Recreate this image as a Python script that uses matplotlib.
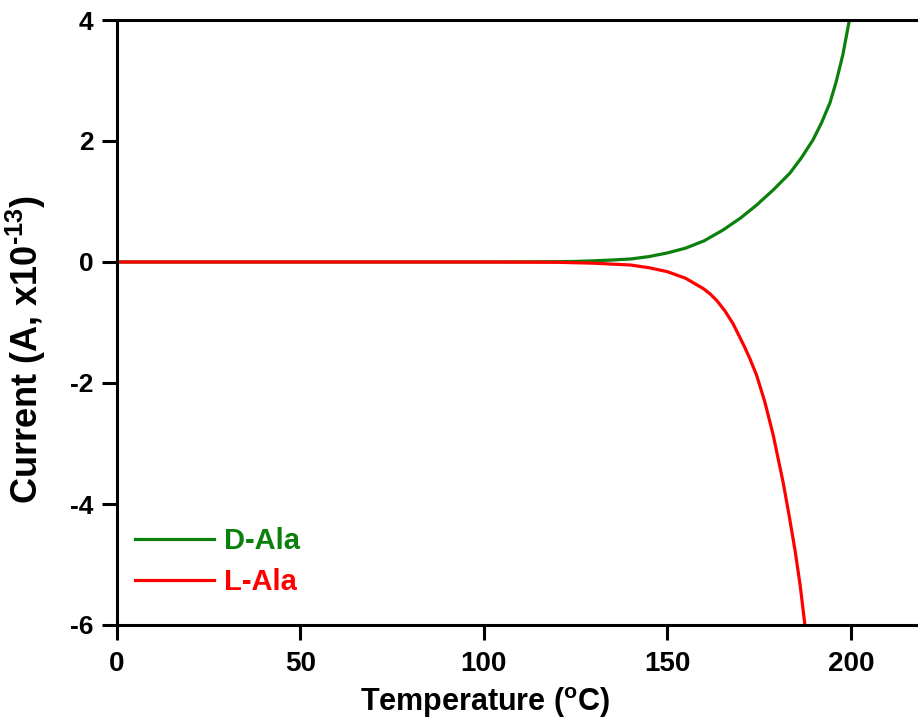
import matplotlib
matplotlib.use('Agg')
import matplotlib.pyplot as plt

plt.rcParams['font.family'] = ['Liberation Sans', 'DejaVu Sans']
plt.rcParams['font.weight'] = 'bold'
plt.rcParams['mathtext.fontset'] = 'custom'
plt.rcParams['mathtext.rm'] = 'Liberation Sans:bold'
plt.rcParams['mathtext.bf'] = 'Liberation Sans:bold'
plt.rcParams['axes.unicode_minus'] = False

# current vs temperature
temp_d = [0, 50, 100, 120, 125, 130, 135, 140, 145, 150, 155, 160, 165.2, 170,
          174.3, 179, 183.4, 186.5, 189.7, 192, 194.3, 196, 197.8, 199.6]
cur_d = [0, 0, 0, 0.005, 0.01, 0.02, 0.033, 0.05, 0.09, 0.15, 0.23, 0.35, 0.53,
         0.73, 0.94, 1.2, 1.47, 1.72, 2.02, 2.3, 2.63, 2.98, 3.42, 4.0]

temp_l = [0, 50, 100, 120, 130, 140, 145, 150, 155, 159.8, 161.7, 163.5, 165.7,
          167.9, 171, 172.5, 174.3, 176.5, 178.8, 181.6, 183.2, 184.8, 186.2, 187.5]
cur_l = [0, 0, 0, -0.005, -0.02, -0.05, -0.095, -0.16, -0.27, -0.44, -0.53, -0.64,
         -0.81, -1.02, -1.40, -1.60, -1.87, -2.3, -2.85, -3.66, -4.2, -4.77, -5.35,
         -6.01]

xticks = [0, 50, 100, 150, 200]
yticks = [-6, -4, -2, 0, 2, 4]

green = '#0c800c'
red = '#ff0000'

fig = plt.figure(figsize=(9.18, 7.26), dpi=100)
ax = fig.add_axes([117/918, 1 - 625/726, 1 - 117/918, (625 - 20)/726])

ax.plot(temp_d, cur_d, color=green, lw=2.3, label='D-Ala', solid_joinstyle='round')
ax.plot(temp_l, cur_l, color=red, lw=2.3, label='L-Ala', solid_joinstyle='round')

ax.set_xlim(0, 218.3)
ax.set_ylim(-6, 4)
ax.set_xticks(xticks)
ax.set_yticks(yticks)

ax.spines['right'].set_visible(False)
for s in ['left', 'top', 'bottom']:
    ax.spines[s].set_linewidth(2.2)

ax.tick_params(axis='both', direction='out', length=10.8, width=2.2)
ax.tick_params(axis='x', labelsize=20, pad=8)
ax.tick_params(axis='y', labelsize=19, pad=6)
for lab in ax.get_xticklabels() + ax.get_yticklabels():
    lab.set_fontweight('bold')

ax.set_xlabel(r'Temperature ($^{\mathbf{o}}$C)', fontsize=22, fontweight='bold')
ax.xaxis.set_label_coords(0.459, -0.1)
ax.set_ylabel(r'Current (A, x10$^{\text{-13}}$)', fontsize=26, fontweight='bold')
ax.yaxis.set_label_coords(-0.086, 0.456)

leg = ax.legend(loc='lower left', bbox_to_anchor=(0.0225, 0.048), frameon=False,
                fontsize=21, handlelength=2.7, handletextpad=0.35,
                labelspacing=0.45, borderpad=0, borderaxespad=0)
for txt, col in zip(leg.get_texts(), [green, red]):
    txt.set_color(col)
    txt.set_fontweight('bold')

fig.savefig('out.png', dpi=100)
